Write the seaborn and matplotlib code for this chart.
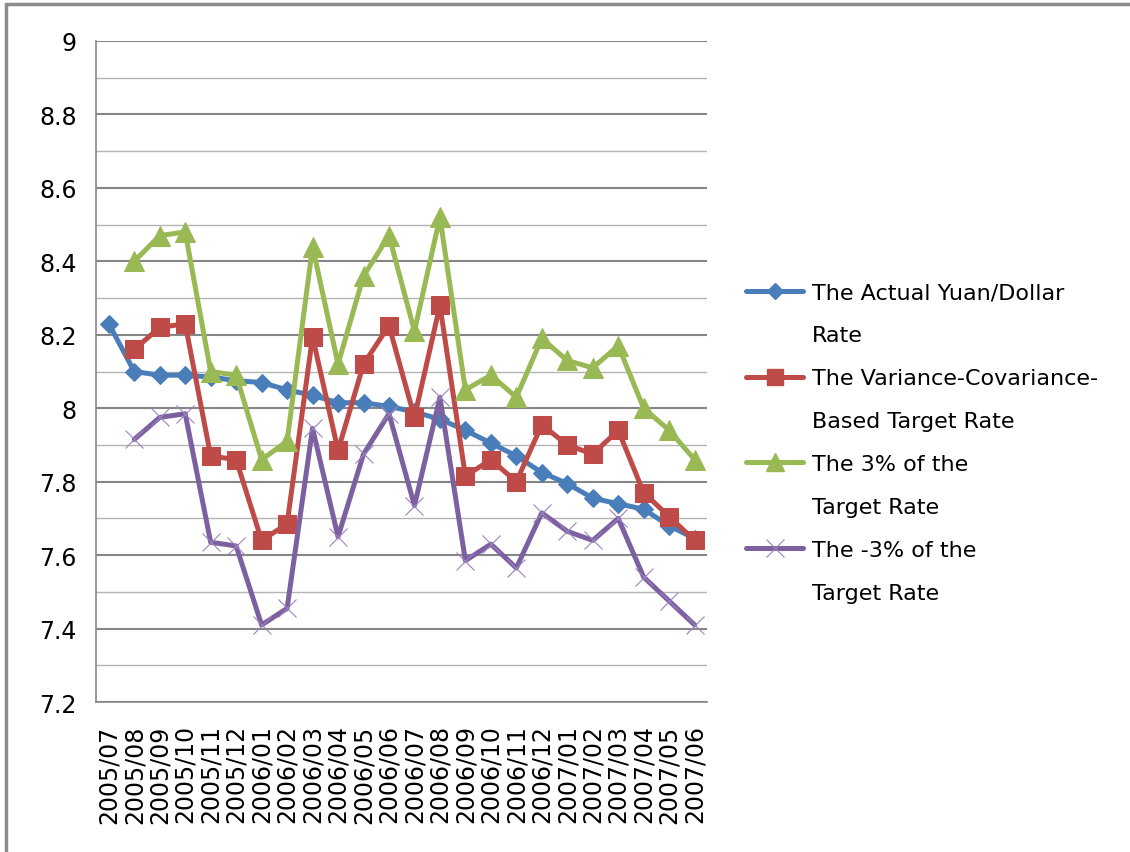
import numpy as np
import pandas as pd
import matplotlib
matplotlib.use("Agg")
import matplotlib.pyplot as plt
from matplotlib.lines import Line2D
from matplotlib.ticker import MultipleLocator, FixedLocator
import seaborn as sns

# --- data ---
months = ["2005/07", "2005/08", "2005/09", "2005/10", "2005/11", "2005/12",
          "2006/01", "2006/02", "2006/03", "2006/04", "2006/05", "2006/06",
          "2006/07", "2006/08", "2006/09", "2006/10", "2006/11", "2006/12",
          "2007/01", "2007/02", "2007/03", "2007/04", "2007/05", "2007/06"]

actual_rate = [8.23, 8.10, 8.09, 8.09, 8.085, 8.075, 8.07, 8.05, 8.035, 8.015,
               8.015, 8.005, 7.99, 7.97, 7.94, 7.905, 7.87, 7.825, 7.795,
               7.755, 7.74, 7.725, 7.68, 7.645]
target_rate = [np.nan, 8.16, 8.22, 8.23, 7.87, 7.86, 7.64, 7.685, 8.195, 7.885,
               8.12, 8.225, 7.975, 8.28, 7.815, 7.86, 7.80, 7.955, 7.90,
               7.875, 7.94, 7.77, 7.705, 7.64]
plus3_rate = [np.nan, 8.40, 8.47, 8.48, 8.10, 8.09, 7.86, 7.91, 8.44, 8.12,
              8.36, 8.47, 8.21, 8.52, 8.05, 8.09, 8.03, 8.19, 8.13,
              8.11, 8.17, 8.00, 7.94, 7.86]
minus3_rate = [np.nan, 7.915, 7.975, 7.985, 7.635, 7.625, 7.41, 7.455, 7.945, 7.65,
               7.875, 7.985, 7.735, 8.03, 7.585, 7.63, 7.565, 7.715, 7.665,
               7.64, 7.70, 7.54, 7.475, 7.41]

df = pd.DataFrame({"idx": np.arange(len(months)), "month": months,
                   "actual": actual_rate, "target": target_rate,
                   "plus3": plus3_rate, "minus3": minus3_rate})

sns.set_style("white")
plt.rcParams['font.family'] = ['DejaVu Sans']
plt.rcParams['text.color'] = 'black'
plt.rcParams['xtick.color'] = 'black'
plt.rcParams['ytick.color'] = 'black'

fig = plt.figure(figsize=(11.3, 8.53), dpi=100)
ax = fig.add_axes([0.085, 0.1758, 0.541, 0.775])

blue, red, green, purple = "#4A7EBB", "#BE4B48", "#98B954", "#7D60A0"

sns.lineplot(data=df, x="idx", y="actual", ax=ax, color=blue, lw=3.6,
             marker="D", markersize=9, markeredgecolor=blue, zorder=3)
sns.lineplot(data=df, x="idx", y="target", ax=ax, color=red, lw=3.6,
             marker="s", markersize=13, markeredgecolor=red, zorder=4)
sns.lineplot(data=df, x="idx", y="plus3", ax=ax, color=green, lw=3.6,
             marker="^", markersize=15, markeredgecolor=green, zorder=5)
sns.lineplot(data=df, x="idx", y="minus3", ax=ax, color=purple, lw=3.6,
             marker="x", markersize=13, markeredgewidth=0.8,
             markeredgecolor="#9A83C0", zorder=6)

ax.set_xlim(-0.5, len(months) - 0.5)
ax.set_ylim(7.2, 9.0)
ax.set_xlabel("")
ax.set_ylabel("")

# y axis: major labels every 0.2, lighter lines every 0.1
ax.yaxis.set_major_locator(MultipleLocator(0.2))
ax.yaxis.set_minor_locator(MultipleLocator(0.1))
ax.set_yticks(np.round(np.arange(7.2, 9.01, 0.2), 1))
ax.set_yticklabels(["7.2", "7.4", "7.6", "7.8", "8", "8.2", "8.4", "8.6", "8.8", "9"])
ax.grid(which="major", axis="y", color="#868686", lw=1.5)
ax.grid(which="minor", axis="y", color="#B4B4B4", lw=1.0)
ax.tick_params(axis="y", which="major", direction="out", length=6, width=1,
               color="#868686", labelcolor="black", labelsize=17, pad=8)
ax.tick_params(axis="y", which="minor", length=0)

# x axis: labels at categories, tick marks at the boundaries
ax.set_xticks(np.arange(len(months)))
ax.set_xticklabels(months, rotation=90, fontsize=17)
ax.xaxis.set_minor_locator(FixedLocator(np.arange(-0.5, len(months), 1.0)))
ax.tick_params(axis="x", which="major", length=0, pad=16, labelcolor="black")
ax.tick_params(axis="x", which="minor", direction="out", length=7, width=1,
               color="#868686")

for side in ["top", "right"]:
    ax.spines[side].set_visible(False)
for side in ["left", "bottom"]:
    ax.spines[side].set_color("#868686")
    ax.spines[side].set_linewidth(1.2)

# legend: each entry is two lines, marker on the first one
blank = Line2D([], [], linestyle="none")
handles = [Line2D([], [], color=blue, lw=3.6, marker="D", markersize=8), blank,
           Line2D([], [], color=red, lw=3.6, marker="s", markersize=12), blank,
           Line2D([], [], color=green, lw=3.6, marker="^", markersize=13), blank,
           Line2D([], [], color=purple, lw=3.6, marker="x", markersize=13,
                  markeredgewidth=0.8, markeredgecolor="#9A83C0"), blank]
labels = ["The Actual Yuan/Dollar", "Rate",
          "The Variance-Covariance-", "Based Target Rate",
          "The 3% of the", "Target Rate",
          "The -3% of the", "Target Rate"]
leg = fig.legend(handles, labels, loc="upper left", bbox_to_anchor=(0.652, 0.678),
                 frameon=False, fontsize=16, handlelength=2.6, handletextpad=0.4,
                 labelspacing=1.03, borderaxespad=0)
for t in leg.get_texts():
    t.set_color("black")

# thin gray frame at the left and top of the picture
fig.add_artist(Line2D([0.005, 0.005], [0, 0.994], color="#8C8C8C", lw=2.5,
                      transform=fig.transFigure))
fig.add_artist(Line2D([0.005, 1.0], [0.994, 0.994], color="#8C8C8C", lw=2.5,
                      transform=fig.transFigure))

fig.savefig("out.png", dpi=100)
